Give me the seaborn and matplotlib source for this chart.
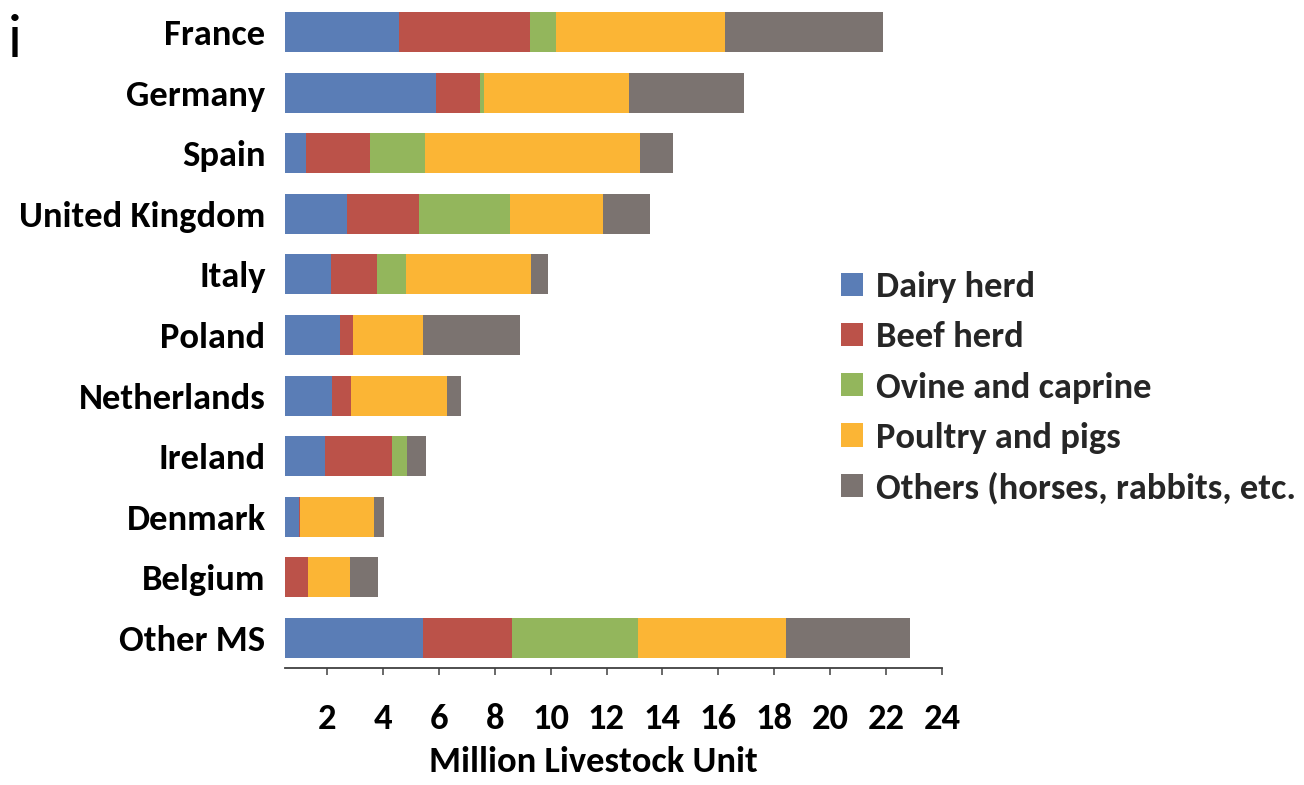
import matplotlib
matplotlib.use("Agg")
import matplotlib.pyplot as plt
import seaborn as sns
import pandas as pd
from matplotlib.patches import Patch

countries = ["France", "Germany", "Spain", "United Kingdom", "Italy", "Poland",
             "Netherlands", "Ireland", "Denmark", "Belgium", "Other MS"]
dairy_herd = [4.59, 5.89, 1.25, 2.70, 2.14, 2.46, 2.19, 1.93, 1.00, 0.00, 5.43]
beef_herd = [4.68, 1.60, 2.29, 2.59, 1.66, 0.48, 0.66, 2.38, 0.05, 1.32, 3.19]
ovine_caprine = [0.91, 0.12, 1.96, 3.27, 1.02, 0.00, 0.00, 0.57, 0.00, 0.00, 4.50]
poultry_pigs = [6.07, 5.18, 7.68, 3.31, 4.47, 2.48, 3.46, 0.00, 2.63, 1.52, 5.29]
others = [5.63, 4.12, 1.19, 1.67, 0.61, 3.47, 0.50, 0.66, 0.35, 1.00, 4.43]

series_names = ["Dairy herd", "Beef herd", "Ovine and caprine", "Poultry and pigs",
                "Others (horses, rabbits, etc."]
colors = ["#5A7DB6", "#BB5249", "#93B65C", "#FBB535", "#7B7370"]
x_ticks = [2, 4, 6, 8, 10, 12, 14, 16, 18, 20, 22, 24]

sns.set_theme(style="white")
FAMILY = ["Carlito", "Open Sans Condensed", "DejaVu Sans"]
plt.rcParams["font.family"] = FAMILY

df = pd.DataFrame({"country": countries,
                   series_names[0]: dairy_herd,
                   series_names[1]: beef_herd,
                   series_names[2]: ovine_caprine,
                   series_names[3]: poultry_pigs,
                   series_names[4]: others})
cum = df[series_names].cumsum(axis=1)
cum["country"] = df["country"]

W, H = 1304, 785
fig = plt.figure(figsize=(W / 100, H / 100), dpi=100)
ax = fig.add_axes([285 / W, 1 - 668 / H, (942 - 285) / W, (668 - 2) / H])

# painter's algorithm: draw cumulative totals from last to first series
for name, col in reversed(list(zip(series_names, colors))):
    sns.barplot(data=cum, x=name, y="country", order=countries, orient="h",
                color=col, width=0.66, saturation=1, linewidth=0, ax=ax)

FS = 26.3
ax.set_xlim(0.5, 24)
ax.set_ylim(10.5, -0.5)
ax.set_xticks(x_ticks)
ax.set_xticklabels([str(t) for t in x_ticks])
for s in ["top", "right", "left"]:
    ax.spines[s].set_visible(False)
ax.spines["bottom"].set_color("#404040")
ax.spines["bottom"].set_linewidth(1.3)
ax.tick_params(axis="x", bottom=True, direction="out", length=5, width=1.1,
               color="#404040", pad=20, labelsize=FS)
ax.tick_params(axis="y", left=False, length=0, pad=14, labelsize=FS)
for lab in ax.get_xticklabels() + ax.get_yticklabels():
    lab.set_fontweight("bold")
    lab.set_color("black")
ax.set_ylabel("")
ax.set_xlabel("Million Livestock Unit", fontsize=FS, fontweight="bold", color="black")
ax.xaxis.set_label_coords((593 - 285) / 657, -(746 - 668) / 666)

handles = [Patch(facecolor=c, edgecolor="none") for c in colors]
fig.legend(handles, series_names, loc="upper left",
           bbox_to_anchor=(841 / W, 1 - 271 / H), bbox_transform=fig.transFigure,
           frameon=False, prop={"weight": "bold", "size": FS},
           handlelength=0.6, handleheight=0.6, handletextpad=0.37,
           labelspacing=0.5, borderpad=0, borderaxespad=0)

fig.text(8 / W, 1 - 57 / H, "i", fontsize=44, color="black", ha="left", va="baseline")

fig.savefig("out.png", dpi=100)
